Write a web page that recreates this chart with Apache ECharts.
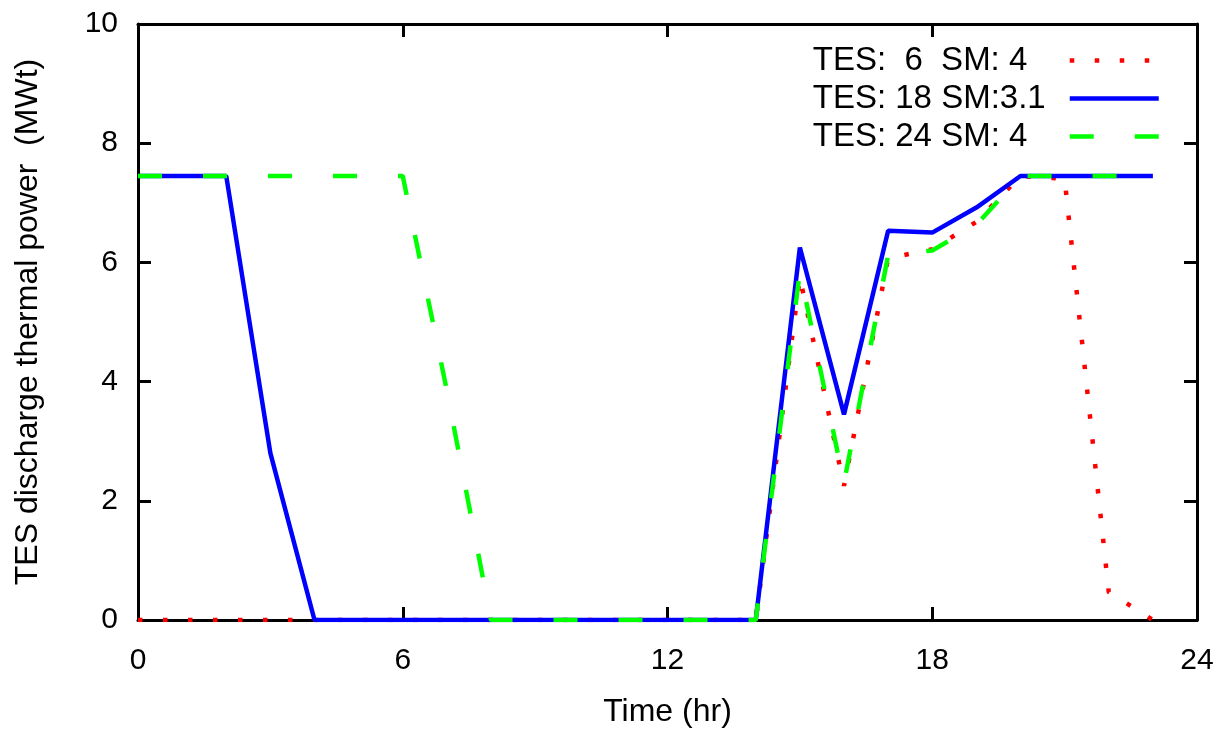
<!DOCTYPE html>
<html>
<head>
<meta charset="utf-8">
<script src="https://cdn.jsdelivr.net/npm/echarts@6/dist/echarts.min.js"></script>
<style>
  html, body { margin: 0; padding: 0; background: #fff; }
  #chart { width: 1231px; height: 735px; }
</style>
</head>
<body>
<div id="chart"></div>
<script>
// Data
var hours = [0,1,2,3,4,5,6,7,8,9,10,11,12,13,14,15,16,17,18,19,20,21,22,23];
var tes6sm4   = [0,0,0,0,0,0,0,0,0,0,0,0,0,0,0,5.75,2.25,6.07,6.22,6.68,7.45,7.4,0.47,0];
var tes18sm31 = [7.45,7.45,7.45,2.8,0,0,0,0,0,0,0,0,0,0,0,6.25,3.45,6.53,6.5,6.92,7.45,7.45,7.45,7.45];
var tes24sm4  = [7.45,7.45,7.45,7.45,7.45,7.45,7.45,3.85,0,0,0,0,0,0,0,5.85,2.3,6.12,6.2,6.63,7.45,7.45,7.45,7.45];
var seriesNames = ['TES:  6  SM: 4', 'TES: 18 SM:3.1', 'TES: 24 SM: 4'];
var xTicks = [0, 6, 12, 18, 24];
var yTicks = [0, 2, 4, 6, 8, 10];

function pairs(xs, ys) { return xs.map(function (x, i) { return [x, ys[i]]; }); }

var FONT = 'Liberation Sans, Arial, sans-serif';
function axisLineStyle() { return { show: true, onZero: false, lineStyle: { color: '#000', width: 3 } }; }
function tickStyle() { return { show: true, inside: true, length: 13, lineStyle: { color: '#000', width: 3 } }; }

var chart = echarts.init(document.getElementById('chart'), null, { renderer: 'canvas' });
chart.setOption({
  animation: false,
  backgroundColor: '#fff',
  grid: { left: 138, right: 34, top: 24, bottom: 115, containLabel: false },
  legend: {
    orient: 'vertical',
    right: 70,
    top: 44,
    padding: 0,
    align: 'right',
    itemWidth: 89,
    itemHeight: 14,
    itemGap: 5,
    data: seriesNames,
    lineStyle: { width: 4.5 },
    itemStyle: { color: 'rgba(0,0,0,0)', borderColor: 'rgba(0,0,0,0)', borderWidth: 0, opacity: 0 },
    formatter: function (name) { return '{a|' + name + '}'; },
    textStyle: {
      color: '#000', fontFamily: FONT, fontSize: 33,
      rich: { a: { width: 252, align: 'left', fontSize: 33, lineHeight: 32, fontFamily: FONT, color: '#000' } }
    }
  },
  xAxis: [{
    type: 'value', min: xTicks[0], max: xTicks[xTicks.length - 1], interval: 6,
    position: 'bottom',
    name: 'Time (hr)', nameLocation: 'middle', nameGap: 76,
    nameTextStyle: { color: '#000', fontFamily: FONT, fontSize: 32 },
    axisLine: axisLineStyle(), axisTick: tickStyle(),
    axisLabel: { color: '#000', fontFamily: FONT, fontSize: 30, margin: 26 },
    splitLine: { show: false }
  }, {
    type: 'value', min: xTicks[0], max: xTicks[xTicks.length - 1], interval: 6,
    position: 'top',
    axisLine: axisLineStyle(), axisTick: tickStyle(),
    axisLabel: { show: false }, splitLine: { show: false }
  }],
  yAxis: [{
    type: 'value', min: yTicks[0], max: yTicks[yTicks.length - 1], interval: 2,
    position: 'left',
    name: 'TES discharge thermal power  (MWt)', nameLocation: 'middle', nameGap: 94,
    nameTextStyle: { color: '#000', fontFamily: FONT, fontSize: 32 },
    axisLine: axisLineStyle(), axisTick: tickStyle(),
    axisLabel: { color: '#000', fontFamily: FONT, fontSize: 30, margin: 20 },
    splitLine: { show: false }
  }, {
    type: 'value', min: yTicks[0], max: yTicks[yTicks.length - 1], interval: 2,
    position: 'right',
    axisLine: axisLineStyle(), axisTick: tickStyle(),
    axisLabel: { show: false }, splitLine: { show: false }
  }],
  series: [{
    name: seriesNames[0], type: 'line', data: pairs(hours, tes6sm4),
    symbol: 'none', color: '#ff0000',
    lineStyle: { color: '#ff0000', width: 4.5, type: [4.5, 20.5], cap: 'butt' }
  }, {
    name: seriesNames[1], type: 'line', data: pairs(hours, tes18sm31),
    symbol: 'none', color: '#0000ff',
    lineStyle: { color: '#0000ff', width: 4.5, type: 'solid' }
  }, {
    name: seriesNames[2], type: 'line', data: pairs(hours, tes24sm4),
    symbol: 'none', color: '#00ff00',
    lineStyle: { color: '#00ff00', width: 4.5, type: [24, 41], cap: 'butt' }
  }]
});
</script>
</body>
</html>
